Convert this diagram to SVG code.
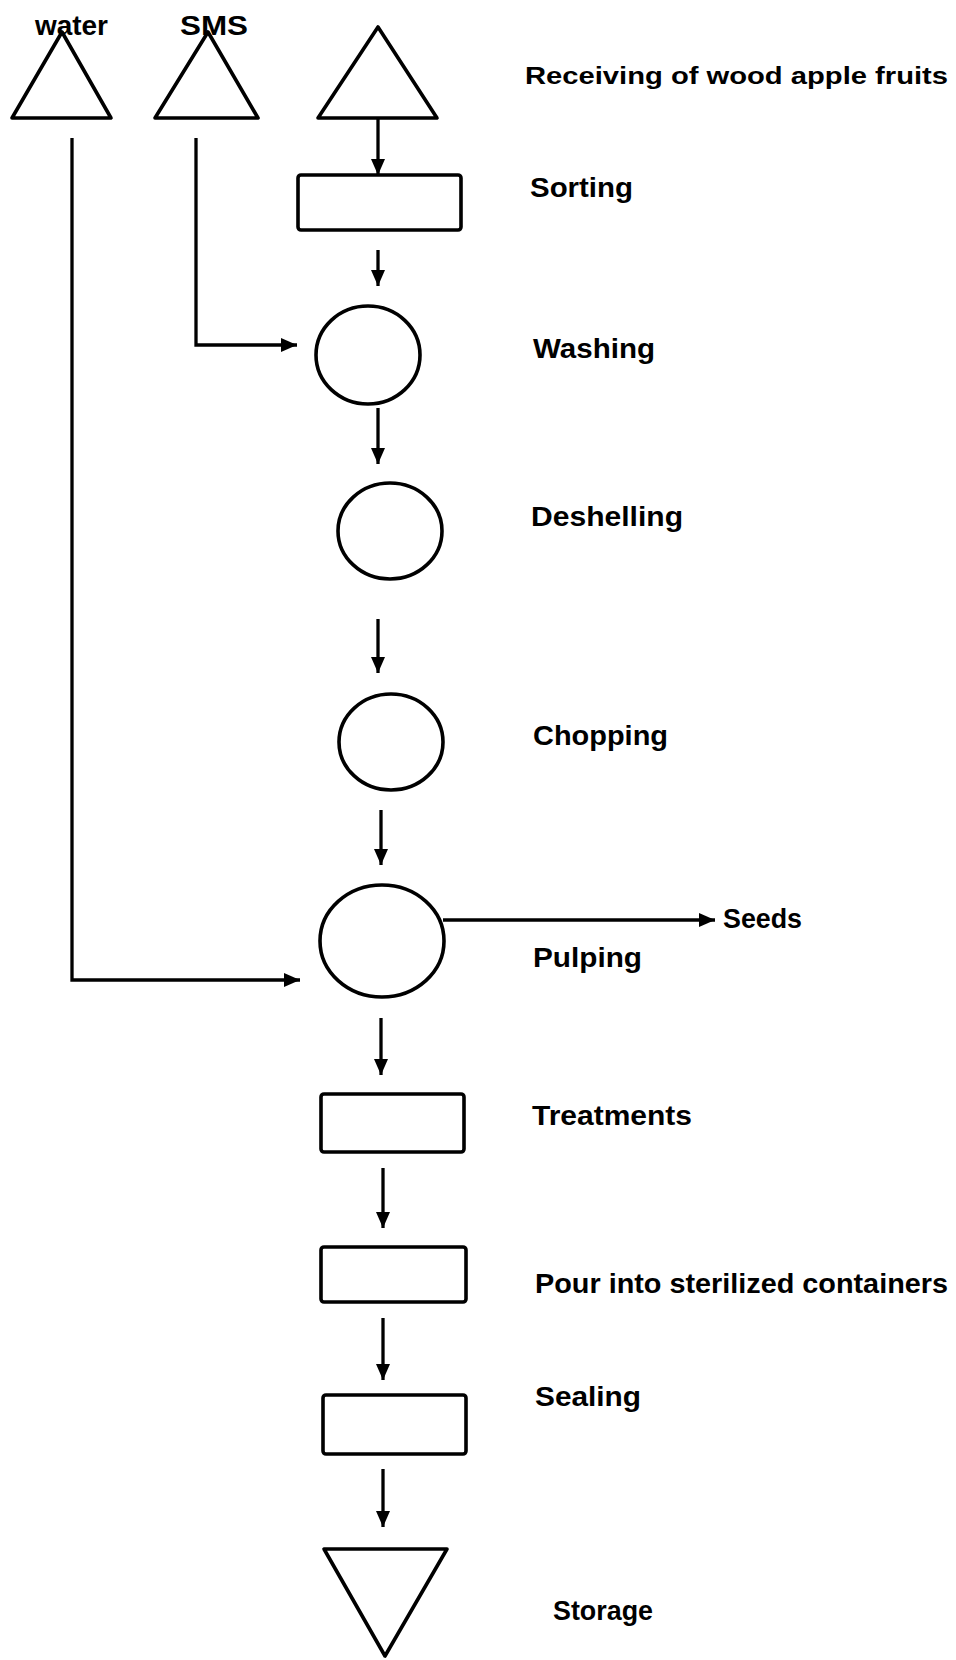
<svg xmlns="http://www.w3.org/2000/svg" width="956" height="1660" viewBox="0 0 956 1660">
<defs>
<marker id="ah" markerUnits="userSpaceOnUse" markerWidth="18" markerHeight="16" refX="16" refY="7" orient="auto">
<path d="M0,0 L16,7 L0,14 z" fill="#000"/>
</marker>
</defs>
<style>
.shape{fill:#fff;stroke:#000;stroke-width:3.6;stroke-linejoin:round}
.conn{fill:none;stroke:#000;stroke-width:3.3;marker-end:url(#ah)}
.lbl{font-family:"Liberation Sans",Arial,sans-serif;font-weight:bold;font-size:28px;fill:#000}
.src{font-family:"Liberation Sans",Arial,sans-serif;font-weight:bold;font-size:27px;fill:#000}
</style>
<rect width="956" height="1660" fill="#fff"/>
<g id="connectors">
<path class="conn" d="M378,118 V175"/>
<path class="conn" d="M378,250 V286"/>
<path class="conn" d="M378,408 V464"/>
<path class="conn" d="M378,619 V673"/>
<path class="conn" d="M381,810 V865"/>
<path class="conn" d="M381,1018 V1075"/>
<path class="conn" d="M383,1168 V1228"/>
<path class="conn" d="M383,1318 V1380"/>
<path class="conn" d="M383,1469 V1527"/>
<path class="conn" d="M196,138 V345 H297"/>
<path class="conn" d="M72,138 V980 H300"/>
<path class="conn" d="M443,920 H715"/>
</g>
<g id="water">
<polygon class="shape" points="62,32 111,118 12,118"/>
<text class="src" x="35" y="35" textLength="73" lengthAdjust="spacingAndGlyphs">water</text>
</g>
<g id="sms">
<polygon class="shape" points="208,32 258,118 155,118"/>
<text class="src" x="180" y="35" textLength="68" lengthAdjust="spacingAndGlyphs">SMS</text>
</g>
<g id="receiving">
<polygon class="shape" points="378,27 437,118 318,118"/>
<text class="lbl" x="525" y="84" style="font-size:23px" textLength="423" lengthAdjust="spacingAndGlyphs">Receiving of wood apple fruits</text>
</g>
<g id="sorting">
<rect class="shape" x="298" y="175" width="163" height="55" rx="3"/>
<text class="lbl" x="530" y="197" textLength="103" lengthAdjust="spacingAndGlyphs">Sorting</text>
</g>
<g id="washing">
<ellipse class="shape" cx="368" cy="355" rx="52" ry="49"/>
<text class="lbl" x="533" y="358" textLength="122" lengthAdjust="spacingAndGlyphs">Washing</text>
</g>
<g id="deshelling">
<ellipse class="shape" cx="390" cy="531" rx="52" ry="48"/>
<text class="lbl" x="531" y="526" textLength="152" lengthAdjust="spacingAndGlyphs">Deshelling</text>
</g>
<g id="chopping">
<ellipse class="shape" cx="391" cy="742" rx="52" ry="48"/>
<text class="lbl" x="533" y="745" textLength="135" lengthAdjust="spacingAndGlyphs">Chopping</text>
</g>
<g id="pulping">
<ellipse class="shape" cx="382" cy="941" rx="62" ry="56"/>
<text class="lbl" x="533" y="967" textLength="109" lengthAdjust="spacingAndGlyphs">Pulping</text>
</g>
<g id="seeds">
<text class="lbl" x="723" y="928" textLength="79" lengthAdjust="spacingAndGlyphs">Seeds</text>
</g>
<g id="treatments">
<rect class="shape" x="321" y="1094" width="143" height="58" rx="3"/>
<text class="lbl" x="532" y="1125" textLength="160" lengthAdjust="spacingAndGlyphs">Treatments</text>
</g>
<g id="pour">
<rect class="shape" x="321" y="1247" width="145" height="55" rx="3"/>
<text class="lbl" x="535" y="1293" textLength="413" lengthAdjust="spacingAndGlyphs">Pour into sterilized containers</text>
</g>
<g id="sealing">
<rect class="shape" x="323" y="1395" width="143" height="59" rx="3"/>
<text class="lbl" x="535" y="1406" textLength="106" lengthAdjust="spacingAndGlyphs">Sealing</text>
</g>
<g id="storage">
<polygon class="shape" points="324,1549 447,1549 385,1656"/>
<text class="lbl" x="553" y="1620" textLength="100" lengthAdjust="spacingAndGlyphs">Storage</text>
</g>
</svg>
